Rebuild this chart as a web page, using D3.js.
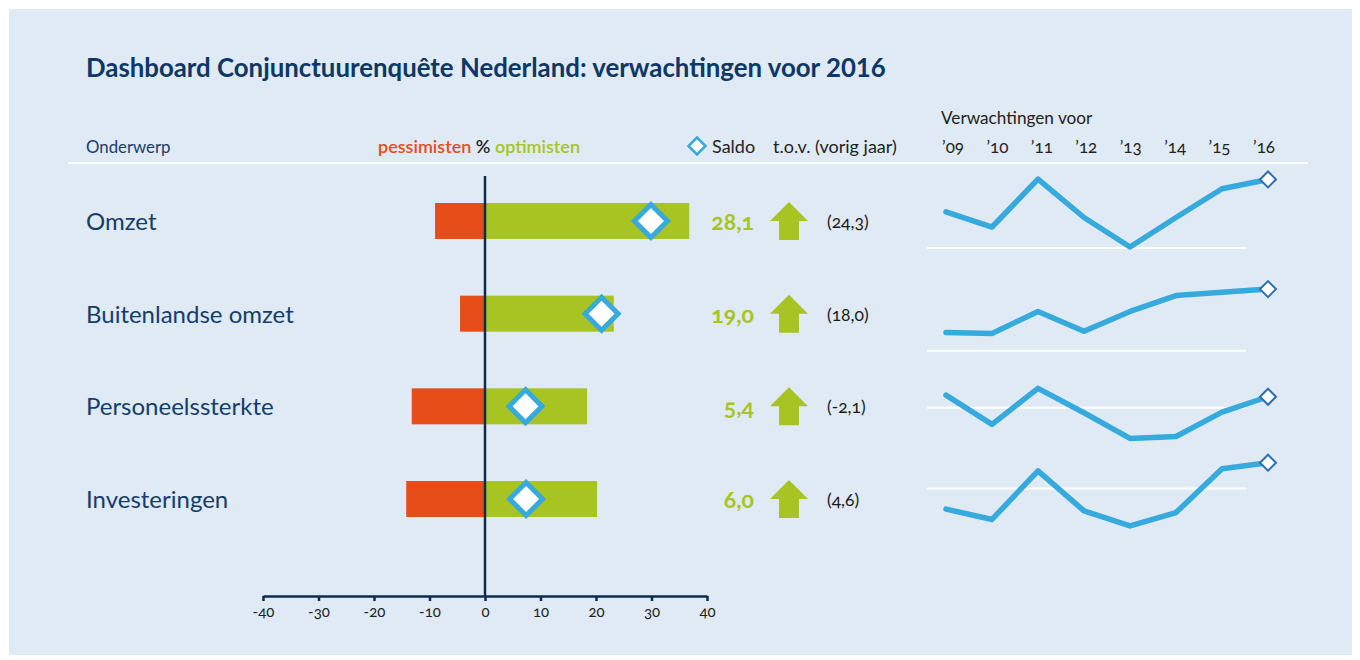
<!DOCTYPE html>
<html>
<head>
<meta charset="utf-8">
<script src="https://cdn.jsdelivr.net/npm/d3@7"></script>
<style>
  body { margin: 0; background: #fff; }
  svg text { font-family: Lato, "Open Sans", sans-serif; }
  .onum { font-variant-numeric: oldstyle-nums; font-feature-settings: "onum" 1; }
</style>
</head>
<body>
<script>
// dashboard: bars pessimisten/optimisten + saldo + sparklines
const width = 1360;
const height = 660;

const topics = ["Omzet", "Buitenlandse omzet", "Personeelssterkte", "Investeringen"];
const pessimisten = [9.0, 4.5, 13.2, 14.2];
const optimisten = [36.8, 23.2, 18.4, 20.2];
const saldo = [28.1, 19.0, 5.4, 6.0];
const saldoMarker = [29.9, 21.0, 7.3, 7.4];   // waar de ruit staat
const vorigJaar = [24.3, 18.0, -2.1, 4.6];

const years = ["’09", "’10", "’11", "’12", "’13", "’14", "’15", "’16"];
const histOmzet = [14.8, 8.6, 28.2, 12.5, 0.4, 12.5, 24.3, 28.1];
const histBuitenland = [5.6, 5.3, 12.1, 6.0, 12.1, 17.0, 18.0, 19.0];
const histPersoneel = [6.2, -8.1, 9.5, -2.4, -14.9, -14.0, -2.1, 5.4];
const histInvest = [-4.8, -7.2, 4.1, -5.2, -8.7, -5.6, 4.6, 6.0];
const history = [histOmzet, histBuitenland, histPersoneel, histInvest];

const axisTicks = [-40, -30, -20, -10, 0, 10, 20, 30, 40];

const navy = "#0d2b4f";
const textBlue = "#143d6c";
const orange = "#e64d18";
const green = "#a7c423";
const lineBlue = "#36a9dd";

const fmt = v => d3.format(".1f")(v).replace(".", ",").replace("−", "-");

const svg = d3.select("body").append("svg")
  .attr("width", width)
  .attr("height", height);

svg.append("rect")
  .attr("x", 9).attr("y", 9)
  .attr("width", 1343).attr("height", 646)
  .attr("fill", "#dfeaf4");

// titel en kop
svg.append("text")
  .attr("x", 86).attr("y", 77)
  .attr("font-size", 25.8).attr("font-weight", "bold")
  .attr("fill", "#0c3766")
  .text("Dashboard Conjunctuurenquête Nederland: verwachtingen voor 2016");

svg.append("text")
  .attr("x", 86).attr("y", 153)
  .attr("font-size", 16.8).attr("fill", textBlue)
  .text("Onderwerp");

const legend = svg.append("text")
  .attr("x", 378).attr("y", 153)
  .attr("font-size", 18).attr("font-weight", 600);
legend.append("tspan").attr("fill", orange).text("pessimisten");
legend.append("tspan").attr("fill", "#222").text(" % ");
legend.append("tspan").attr("fill", green).text("optimisten");

const diamond = r => `M0,${-r}L${r},0L0,${r}L${-r},0Z`;

svg.append("path")
  .attr("transform", "translate(697,146)")
  .attr("d", diamond(8.5))
  .attr("fill", "#fff").attr("stroke", lineBlue).attr("stroke-width", 2.5);

svg.append("text")
  .attr("x", 712).attr("y", 153)
  .attr("font-size", 18).attr("fill", "#222")
  .text("Saldo");

svg.append("text")
  .attr("x", 773).attr("y", 153)
  .attr("font-size", 18).attr("fill", "#222")
  .text("t.o.v. (vorig jaar)");

svg.append("text")
  .attr("x", 941).attr("y", 124)
  .attr("font-size", 17.2).attr("fill", "#222")
  .text("Verwachtingen voor");

svg.append("line")
  .attr("x1", 68).attr("x2", 1308)
  .attr("y1", 163).attr("y2", 163)
  .attr("stroke", "#fff").attr("stroke-width", 2);

// schalen
const x = d3.scaleLinear().domain([-40, 40]).range([263, 707]);
const y = d3.scalePoint().domain(topics).range([221, 499]);
const barH = 36;

const rows = topics.map((t, i) => ({
  topic: t, pes: pessimisten[i], opt: optimisten[i], saldo: saldo[i],
  marker: saldoMarker[i], prev: vorigJaar[i], hist: history[i]
}));

// labels
svg.append("g").selectAll("text")
  .data(rows).join("text")
  .attr("x", 86).attr("y", d => y(d.topic) + 9)
  .attr("font-size", 24).attr("fill", textBlue)
  .text(d => d.topic);

// bars
svg.append("g").selectAll("rect")
  .data(rows).join("rect")
  .attr("x", d => x(-d.pes)).attr("y", d => y(d.topic) - barH / 2)
  .attr("width", d => x(0) - x(-d.pes)).attr("height", barH)
  .attr("fill", orange);

svg.append("g").selectAll("rect")
  .data(rows).join("rect")
  .attr("x", x(0)).attr("y", d => y(d.topic) - barH / 2)
  .attr("width", d => x(d.opt) - x(0)).attr("height", barH)
  .attr("fill", green);

// nullijn + as
svg.append("line")
  .attr("x1", x(0)).attr("x2", x(0))
  .attr("y1", 176).attr("y2", 596)
  .attr("stroke", navy).attr("stroke-width", 2.5);

const xAxis = g => g
  .attr("transform", "translate(0,596)")
  .call(d3.axisBottom(x).tickValues(axisTicks).tickSize(5).tickSizeOuter(0).tickPadding(5)
    .tickFormat(d => String(d)))
  .call(g => g.select(".domain").attr("stroke", navy).attr("stroke-width", 2.5))
  .call(g => g.selectAll(".tick line").attr("stroke", navy).attr("stroke-width", 2.5))
  .call(g => g.selectAll(".tick text")
    .attr("class", "onum")
    .attr("fill", "#222").attr("font-size", 15)
    .attr("font-family", "Lato, sans-serif"));
svg.append("g").call(xAxis);

// saldo-ruiten
svg.append("g").selectAll("path")
  .data(rows).join("path")
  .attr("transform", d => `translate(${x(d.marker)},${y(d.topic)})`)
  .attr("d", diamond(16.5))
  .attr("fill", "#fff").attr("stroke", lineBlue).attr("stroke-width", 5);

// saldo tekst
svg.append("g").selectAll("text")
  .data(rows).join("text")
  .attr("class", "onum")
  .attr("x", 754).attr("y", d => y(d.topic) + 9)
  .attr("text-anchor", "end")
  .attr("font-size", 23).attr("font-weight", "bold").attr("fill", green)
  .text(d => fmt(d.saldo));

// pijlen
const arrowUp = "M0,-19L19,0L10,0L10,19L-10,19L-10,0L-19,0Z";
svg.append("g").selectAll("path")
  .data(rows).join("path")
  .attr("transform", d => `translate(789,${y(d.topic)})` + (d.saldo >= d.prev ? "" : " rotate(180)"))
  .attr("d", arrowUp)
  .attr("fill", green);

svg.append("g").selectAll("text")
  .data(rows).join("text")
  .attr("class", "onum")
  .attr("x", 827).attr("y", d => y(d.topic) + 7)
  .attr("font-size", 17.5).attr("fill", "#1a1a1a")
  .text(d => `(${fmt(d.prev)})`);

// sparklines
const sx = d3.scalePoint().domain(years).range([946, 1268]);
const labelX = d3.scalePoint().domain(years).range([942, 1253]);

svg.append("g").selectAll("text")
  .data(years).join("text")
  .attr("class", "onum")
  .attr("x", d => labelX(d)).attr("y", 153)
  .attr("font-size", 17).attr("fill", "#222")
  .text(d => d);

// per rij: nullijn-offset t.o.v. rijmidden en pixels per eenheid
const sparkLayout = [
  {zero: 27, k: 2.44},
  {zero: 37, k: 3.24},
  {zero: 1.5, k: 2.05},
  {zero: -10.5, k: 4.3}
];

rows.forEach((d, i) => {
  const z = y(d.topic) + sparkLayout[i].zero;
  const sy = d3.scaleLinear().domain([0, 10]).range([z, z - 10 * sparkLayout[i].k]);
  const g = svg.append("g");
  g.append("line")
    .attr("x1", 927).attr("x2", 1246)
    .attr("y1", sy(0)).attr("y2", sy(0))
    .attr("stroke", "#fff").attr("stroke-width", 2);
  const line = d3.line()
    .x((v, j) => sx(years[j]))
    .y(v => sy(v));
  g.append("path")
    .datum(d.hist)
    .attr("fill", "none")
    .attr("stroke", lineBlue)
    .attr("stroke-width", 5.5)
    .attr("stroke-linejoin", "round")
    .attr("stroke-linecap", "round")
    .attr("d", line);
  const last = d.hist.length - 1;
  g.append("path")
    .attr("transform", `translate(${sx(years[last])},${sy(d.hist[last])})`)
    .attr("d", diamond(8))
    .attr("fill", "#fff").attr("stroke", "#2e6db4").attr("stroke-width", 2);
});
</script>
</body>
</html>
